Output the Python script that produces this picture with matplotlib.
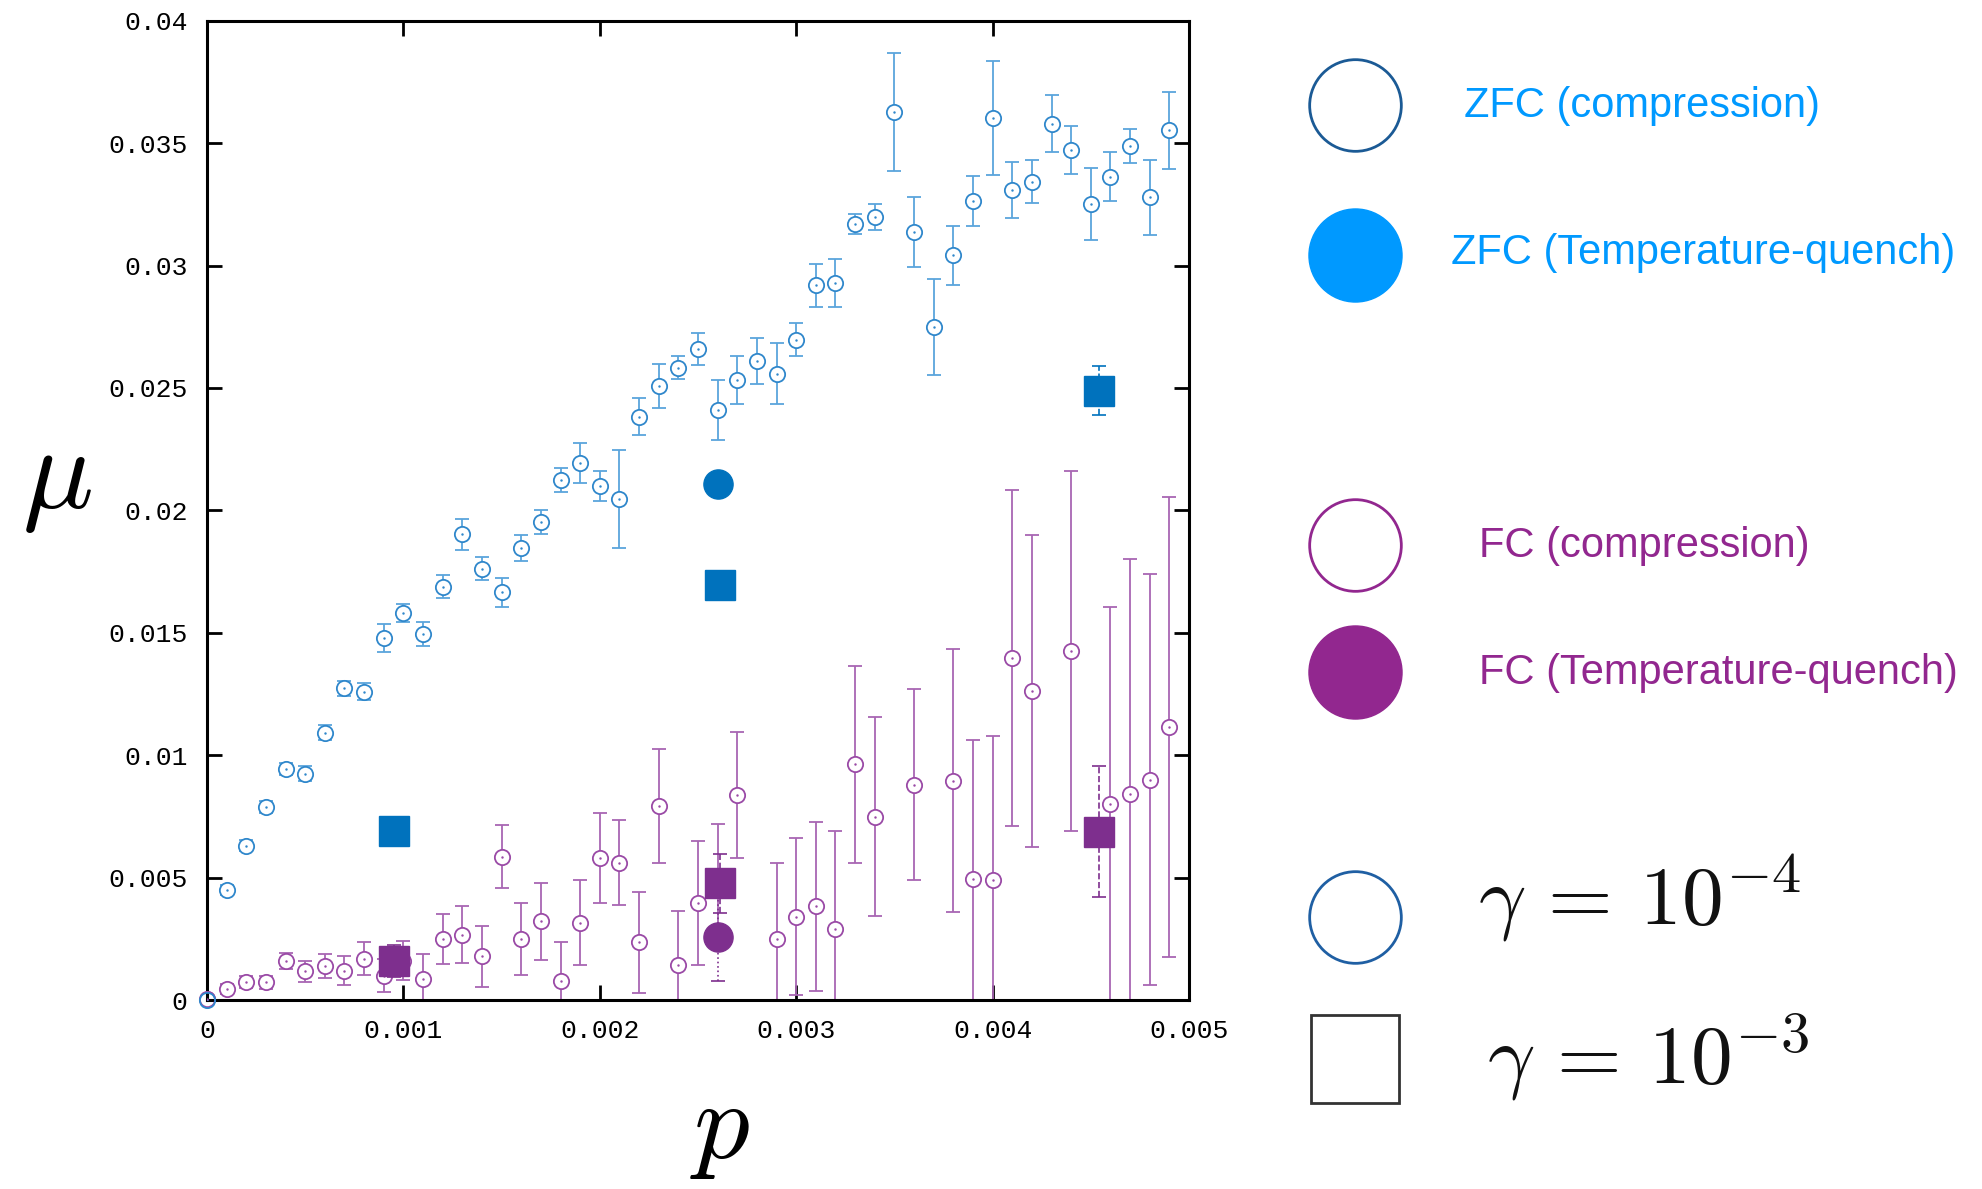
import numpy as np
import matplotlib
matplotlib.use("Agg")
import matplotlib.pyplot as plt

plt.rcParams['mathtext.fontset'] = 'cm'

# ZFC, compression (gamma = 1e-4), p in units of 1e-4
zfc_p = [0, 1, 2, 3, 4, 5, 6, 7, 8, 9, 10, 11, 12, 13, 14, 15, 16, 17, 18, 19,
         20, 21, 22, 23, 24, 25, 26, 27, 28, 29, 30, 31, 32, 33, 34, 35, 36, 37, 38, 39,
         40, 41, 42, 43, 44, 45, 46, 47, 48, 49]
zfc_mu = [0.0000, 0.00448, 0.00631, 0.00787, 0.00945, 0.00924, 0.01092, 0.01273, 0.01259, 0.01478,
          0.01582, 0.01496, 0.01687, 0.01902, 0.01762, 0.01665, 0.01848, 0.01953, 0.02125, 0.02193,
          0.02100, 0.02046, 0.02383, 0.02508, 0.02583, 0.02658, 0.02411, 0.02534, 0.02610, 0.02558,
          0.02697, 0.02920, 0.02928, 0.03169, 0.03198, 0.03628, 0.03136, 0.02748, 0.03041, 0.03264,
          0.03603, 0.03309, 0.03342, 0.03579, 0.03471, 0.03253, 0.03362, 0.03488, 0.03279, 0.03553]
zfc_err = [0.0001, 0.0002, 0.00022, 0.00025, 0.00025, 0.0003, 0.0003, 0.0003, 0.00035, 0.00058,
           0.00036, 0.0005, 0.00047, 0.00064, 0.00047, 0.0006, 0.00053, 0.0005, 0.0005, 0.00083,
           0.00062, 0.002, 0.00076, 0.00088, 0.00046, 0.00066, 0.00123, 0.00098, 0.00093, 0.00124,
           0.00067, 0.00088, 0.00097, 0.00042, 0.00054, 0.00242, 0.00142, 0.00197, 0.00121, 0.00102,
           0.00233, 0.00115, 0.00088, 0.00116, 0.00098, 0.00147, 0.001, 0.00068, 0.00154, 0.00157]

# FC, compression (gamma = 1e-4)
fc_p = [0, 1, 2, 3, 4, 5, 6, 7, 8, 9, 10, 11, 12, 13, 14, 15, 16, 17, 18, 19,
        20, 21, 22, 23, 24, 25, 26, 27, 29, 30, 31, 32, 33, 34, 36, 38, 39,
        40, 41, 42, 44, 46, 47, 48, 49]
fc_mu = [0.00005, 0.00044, 0.00073, 0.00073, 0.0016, 0.00117, 0.00137, 0.0012, 0.00168, 0.00099,
         0.0016, 0.00087, 0.00248, 0.00267, 0.00178, 0.00586, 0.00248, 0.00321, 0.00079, 0.00316,
         0.0058, 0.00561, 0.00236, 0.00792, 0.00141, 0.00397, 0.0047, 0.00837, 0.00248, 0.00341,
         0.00382, 0.00289, 0.00962, 0.00749, 0.0088, 0.00895, 0.00494,
         0.0049, 0.01397, 0.01261, 0.01424, 0.00799, 0.00841, 0.009, 0.01115]
fc_err = [0.0001, 0.0002, 0.00023, 0.00027, 0.00033, 0.00044, 0.00049, 0.0006, 0.00067, 0.00068,
          0.0008, 0.001, 0.00102, 0.00116, 0.00124, 0.00128, 0.00147, 0.00157, 0.00158, 0.00173,
          0.00184, 0.00175, 0.00206, 0.00233, 0.00222, 0.00254, 0.0025, 0.00258, 0.0031, 0.0032,
          0.00345, 0.004, 0.00404, 0.00405, 0.00389, 0.00537, 0.0057,
          0.0059, 0.00685, 0.00638, 0.00735, 0.00808, 0.00962, 0.00838, 0.0094]

# gamma = 1e-3 (squares)
sq_p = [0.00095, 0.00261, 0.00454]
sq_zfc_mu = [0.0069, 0.01697, 0.02489]
sq_zfc_err = [0.0002, 0.0003, 0.001]
sq_fc_mu = [0.0016, 0.00477, 0.00688]
sq_fc_err = [0.00066, 0.0012, 0.00266]

# temperature quench (filled circles)
tq_p = [0.0026]
tq_zfc_mu = [0.02109]
tq_fc_mu = [0.00259]
tq_fc_err = [0.0018]

xticks = [0, 0.001, 0.002, 0.003, 0.004, 0.005]
xticklabels = ['0', '0.001', '0.002', '0.003', '0.004', '0.005']
yticks = [0, 0.005, 0.01, 0.015, 0.02, 0.025, 0.03, 0.035, 0.04]
yticklabels = ['0', '0.005', '0.01', '0.015', '0.02', '0.025', '0.03', '0.035', '0.04']

blue = '#2f87cb'
blue_err = '#5aa5dc'
purple = '#9a4aa6'
purple_err = '#a866b3'
dblue = '#0072BD'
dpurple = '#7E2F8E'

W, H = 1982, 1189
fig = plt.figure(figsize=(W / 100, H / 100), dpi=100)
ax = fig.add_axes([207 / W, 1 - 1000 / H, 982 / W, 979.3 / H])

zp = np.array(zfc_p) * 1e-4
fp = np.array(fc_p) * 1e-4

ax.errorbar(zp, zfc_mu, yerr=zfc_err, fmt='o', ms=11, mfc='white', mec=blue, mew=1.3,
            ecolor=blue_err, elinewidth=1.3, capsize=5, capthick=1.3, zorder=2)
ax.plot(zp, zfc_mu, '.', ms=1.5, color=blue, zorder=3)
ax.errorbar(fp, fc_mu, yerr=fc_err, fmt='o', ms=11, mfc='white', mec=purple, mew=1.3,
            ecolor=purple_err, elinewidth=1.3, capsize=5, capthick=1.3, zorder=2)
ax.plot(fp, fc_mu, '.', ms=1.5, color=purple, zorder=3)
# points sitting on the origin are drawn over the spines
ax.plot(fp[:1], fc_mu[:1], 'o', ms=11, mfc='none', mec=purple, mew=1.3, clip_on=False, zorder=5)
ax.plot(zp[:1], zfc_mu[:1], 'o', ms=11, mfc='none', mec=blue, mew=1.3, clip_on=False, zorder=5)

for mu, err, c in [(sq_zfc_mu, sq_zfc_err, dblue), (sq_fc_mu, sq_fc_err, dpurple)]:
    eb = ax.errorbar(sq_p, mu, yerr=err, fmt='s', ms=21, color=c, ecolor=c,
                     elinewidth=1.2, capsize=5, capthick=1.2, zorder=4)
    eb[2][0].set_linestyle('--')

ax.plot(tq_p, tq_zfc_mu, 'o', ms=21, color=dblue, zorder=4)
eb = ax.errorbar(tq_p, tq_fc_mu, yerr=tq_fc_err, fmt='o', ms=21, color=dpurple, ecolor=dpurple,
                 elinewidth=1.2, capsize=5, capthick=1.2, zorder=4)
eb[2][0].set_linestyle(':')

ax.set_xlim(0, 0.005)
ax.set_ylim(0, 0.04)
ax.set_xticks(xticks)
ax.set_xticklabels(xticklabels)
ax.set_yticks(yticks)
ax.set_yticklabels(yticklabels)
ax.tick_params(direction='in', length=11, width=2, top=True, right=True, labelsize=19, pad=14)
for lab in ax.get_xticklabels() + ax.get_yticklabels():
    lab.set_family('Liberation Mono')
for s in ax.spines.values():
    s.set_linewidth(2.2)

fig.text(57 / W, 1 - 478 / H, r'$\mu$', fontsize=85, ha='center', va='center')
fig.text(720 / W, 1 - 1158 / H, r'$p$', fontsize=80, ha='center', va='baseline')

# legend panel on the right
ov = fig.add_axes([0, 0, 1, 1])
ov.set_xlim(0, W)
ov.set_ylim(H, 0)
ov.axis('off')

mx = 1355
ov.plot(mx, 105, 'o', ms=66, mfc='white', mec='#1b5a95', mew=2)
ov.plot(mx, 255, 'o', ms=67, color='#0099ff')
ov.plot(mx, 545, 'o', ms=66, mfc='white', mec='#92278f', mew=2)
ov.plot(mx, 672, 'o', ms=67, color='#92278f')
ov.plot(mx, 917, 'o', ms=66, mfc='white', mec='#1f5fa3', mew=2)
ov.plot(mx, 1059, 's', ms=64, mfc='white', mec='#333333', mew=2)

tf = dict(fontsize=30, family='Liberation Sans', va='center', ha='left')
ov.text(1464, 106, 'ZFC (compression)', color='#0099ff', **tf)
ov.text(1451, 253, 'ZFC (Temperature-quench)', color='#0099ff', **tf)
ov.text(1479, 546, 'FC (compression)', color='#92278f', **tf)
ov.text(1479, 673, 'FC (Temperature-quench)', color='#92278f', **tf)

ov.text(1478, 925, r'$\gamma\,=\,10^{-4}$', fontsize=60, color='#111111', ha='left', va='baseline')
ov.text(1487, 1084, r'$\gamma\,=\,10^{-3}$', fontsize=60, color='#111111', ha='left', va='baseline')

fig.savefig('out.png', dpi=100)
